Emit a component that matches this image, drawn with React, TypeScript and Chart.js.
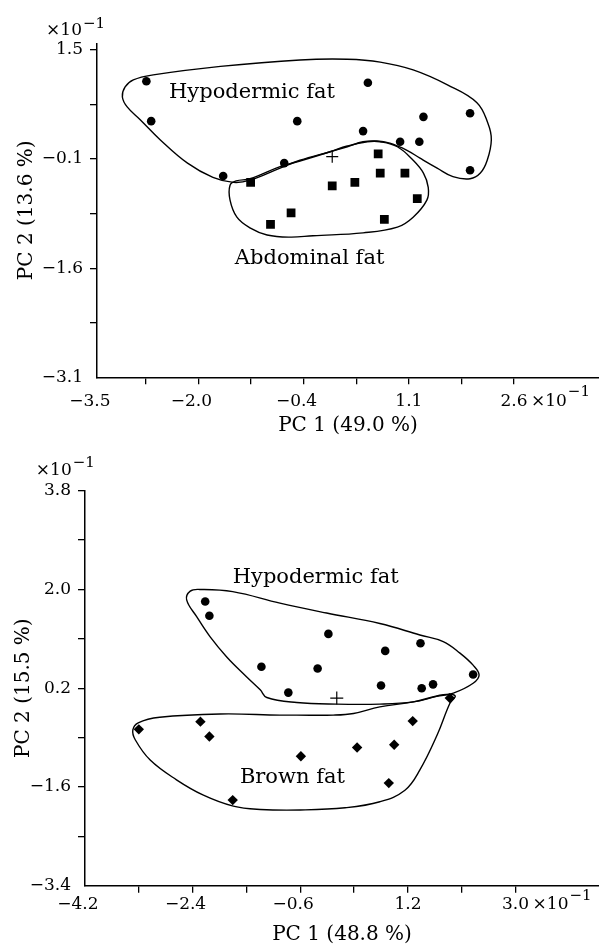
import React, { useEffect, useRef } from 'react';
import { Chart, registerables } from 'chart.js';

Chart.register(...registerables);

const FONT = "'DejaVu Serif', 'Liberation Serif', serif";

type Pt = [number, number];

// ---------------- Top panel: hypodermic vs abdominal fat ----------------
const topXTicks = [-3.48, -2.767, -2.0, -1.233, -0.467, 0.3, 1.067, 1.833, 2.6];
const topXTickLabels = ['−3.5', '', '−2.0', '', '−0.4', '', '1.1', '', '2.6'];
const topYTicks = [-3.1, -2.333, -1.567, -0.8, -0.033, 0.733, 1.5];
const topYTickLabels = ['−3.1', '', '−1.6', '', '−0.1', '', '1.5'];

const topHypodermic: Pt[] = [
  [-2.76, 1.06], [-2.69, 0.5], [-1.64, -0.27], [-0.75, -0.09], [-0.56, 0.5], [0.4, 0.36],
  [0.47, 1.04], [0.94, 0.21], [1.22, 0.21], [1.28, 0.56], [1.96, 0.61], [1.96, -0.19],
];
const topAbdominal: Pt[] = [
  [-1.24, -0.36], [-0.95, -0.95], [-0.65, -0.79], [-0.05, -0.41], [0.28, -0.36],
  [0.62, 0.04], [0.65, -0.23], [1.01, -0.23], [1.19, -0.59], [0.71, -0.88],
];
const topCentre: Pt[] = [[-0.05, 0.0]];

const topHypodermicOutline: Pt[] = [
  [-3.11, 0.84], [-3.07, 0.98], [-2.95, 1.08], [-2.66, 1.15], [-1.68, 1.27], [-0.52, 1.36],
  [0.17, 1.37], [0.65, 1.33], [1.13, 1.22], [1.63, 1.01], [2.06, 0.76], [2.22, 0.47],
  [2.27, 0.24], [2.21, -0.05], [2.11, -0.23], [1.96, -0.31], [1.71, -0.28], [1.48, -0.16],
  [1.23, -0.02], [1.04, 0.09], [0.79, 0.19], [0.6, 0.22], [0.4, 0.21], [0.17, 0.14],
  [-0.08, 0.07], [-0.52, -0.05], [-0.81, -0.16], [-1.25, -0.33], [-1.49, -0.36],
  [-1.79, -0.29], [-2.16, -0.09], [-2.56, 0.24], [-2.85, 0.52], [-3.04, 0.7],
];
const topAbdominalOutline: Pt[] = [
  [-1.54, -0.4], [-1.54, -0.61], [-1.44, -0.85], [-1.25, -1.0], [-1.0, -1.1], [-0.66, -1.13],
  [-0.33, -1.11], [0.4, -1.07], [0.9, -0.99], [1.13, -0.85], [1.33, -0.61], [1.35, -0.43],
  [1.28, -0.23], [1.13, -0.05], [0.9, 0.14], [0.65, 0.21], [0.46, 0.21], [0.17, 0.15],
  [-0.08, 0.07], [-0.52, -0.06], [-0.81, -0.14], [-1.25, -0.31], [-1.45, -0.34],
];
const topLabels = [
  { text: 'Hypodermic fat', x: -2.43, y: 0.83 },
  { text: 'Abdominal fat', x: -1.47, y: -1.51 },
];

// ---------------- Bottom panel: hypodermic vs brown fat ----------------
const botXTicks = [-4.2, -3.3, -2.4, -1.5, -0.6, 0.3, 1.2, 2.1, 3.0];
const botXTickLabels = ['−4.2', '', '−2.4', '', '−0.6', '', '1.2', '', '3.0'];
const botYTicks = [-3.4, -2.5, -1.6, -0.7, 0.2, 1.1, 2.0, 2.9, 3.8];
const botYTickLabels = ['−3.4', '', '−1.6', '', '0.2', '', '2.0', '', '3.8'];

const botHypodermic: Pt[] = [
  [-2.19, 1.78], [-2.12, 1.52], [-1.25, 0.59], [-0.8, 0.12], [-0.31, 0.56], [-0.13, 1.19],
  [0.75, 0.25], [0.82, 0.88], [1.41, 1.02], [1.43, 0.2], [1.62, 0.27], [2.29, 0.45],
];
const botBrown: Pt[] = [
  [-3.3, -0.55], [-2.27, -0.41], [-2.12, -0.68], [-1.73, -1.84], [-0.59, -1.04],
  [0.35, -0.88], [0.97, -0.83], [1.28, -0.4], [1.9, 0.02], [0.88, -1.53],
];
const botCentre: Pt[] = [[0.01, 0.02]];

const botHypodermicOutline: Pt[] = [
  [-2.5, 1.81], [-2.44, 1.97], [-2.28, 2.0], [-1.73, 1.96], [-0.94, 1.75], [-0.16, 1.57],
  [0.73, 1.38], [1.4, 1.17], [1.79, 1.05], [2.07, 0.84], [2.29, 0.62], [2.39, 0.44],
  [2.29, 0.29], [1.96, 0.11], [1.68, 0.05], [1.29, -0.05], [0.73, -0.09], [0.01, -0.09],
  [-0.66, -0.06], [-1.16, 0.03], [-1.27, 0.17], [-1.5, 0.41], [-1.83, 0.77], [-2.11, 1.14],
  [-2.33, 1.5],
];
const botBrownOutline: Pt[] = [
  [-0.94, -0.29], [-1.94, -0.27], [-2.95, -0.33], [-3.31, -0.43], [-3.4, -0.56], [-3.36, -0.74],
  [-3.11, -1.11], [-2.67, -1.47], [-2.22, -1.75], [-1.72, -1.95], [-1.27, -2.01], [-0.6, -2.02],
  [0.15, -1.98], [0.73, -1.87], [1.15, -1.66], [1.4, -1.29], [1.69, -0.65], [1.9, -0.08],
  [1.99, 0.06], [1.79, 0.08], [1.29, -0.05], [0.73, -0.14], [0.29, -0.26], [-0.05, -0.29],
  [-0.66, -0.29],
];
const botLabels = [
  { text: 'Hypodermic fat', x: -1.73, y: 2.12 },
  { text: 'Brown fat', x: -1.61, y: -1.53 },
];

// ---------------- panel descriptions ----------------
interface Marker { points: Pt[]; style: string; radius: number; }
interface PanelCfg {
  width: number; height: number;
  xMin: number; xMax: number; yMin: number; yMax: number;
  xTicks: number[]; xTickLabels: string[]; yTicks: number[]; yTickLabels: string[];
  xTitle: string; yTitle: string;
  markers: Marker[]; outlines: Pt[][]; labels: { text: string; x: number; y: number }[];
  padTop: number; yAxisWidth: number; xAxisHeight: number;
  xTickPad: number; xTitlePad: number; yTitlePad: number;
  yExpDx: number; yExpDy: number; yExpRaise: number; xExpDx: number; xExpRaise: number;
}

const topPanel: PanelCfg = {
  width: 599, height: 445,
  xMin: -3.48, xMax: 3.84, yMin: -3.1, yMax: 1.594,
  xTicks: topXTicks, xTickLabels: topXTickLabels, yTicks: topYTicks, yTickLabels: topYTickLabels,
  xTitle: 'PC 1 (49.0 %)', yTitle: 'PC 2 (13.6 %)',
  markers: [
    { points: topHypodermic, style: 'circle', radius: 4.3 },
    { points: topAbdominal, style: 'rect', radius: 6.2 },
    { points: topCentre, style: 'cross', radius: 6 },
  ],
  outlines: [topHypodermicOutline, topAbdominalOutline],
  labels: topLabels,
  padTop: 43.3, yAxisWidth: 97, xAxisHeight: 67.7,
  xTickPad: 7, xTitlePad: 7.6, yTitlePad: 15,
  yExpDx: 15, yExpDy: 8.3, yExpRaise: 7.5, xExpDx: 17, xExpRaise: 9,
};

const bottomPanel: PanelCfg = {
  width: 599, height: 502,
  xMin: -4.2, xMax: 4.395, yMin: -3.4, yMax: 3.8,
  xTicks: botXTicks, xTickLabels: botXTickLabels, yTicks: botYTicks, yTickLabels: botYTickLabels,
  xTitle: 'PC 1 (48.8 %)', yTitle: 'PC 2 (15.5 %)',
  markers: [
    { points: botHypodermic, style: 'circle', radius: 4.3 },
    { points: botBrown, style: 'rectRot', radius: 5.2 },
    { points: botCentre, style: 'cross', radius: 6.5 },
  ],
  outlines: [botHypodermicOutline, botBrownOutline],
  labels: botLabels,
  padTop: 45.7, yAxisWidth: 85, xAxisHeight: 61.3,
  xTickPad: 2, xTitlePad: 0, yTitlePad: 12,
  yExpDx: 13.3, yExpDy: 15.7, yExpRaise: 8, xExpDx: 17, xExpRaise: 9,
};

// close the outline curves smoothly
const closedLoopPlugin = {
  id: 'closedLoop',
  afterDatasetsUpdate(chart: any) {
    chart.data.datasets.forEach((ds: any, i: number) => {
      if (ds.type !== 'line') return;
      const line: any = chart.getDatasetMeta(i).dataset;
      if (!line) return;
      line._loop = true;
      line._fullLoop = true;
      line._pointsUpdated = false;
      line._segments = undefined;
      line._path = undefined;
    });
  },
};

function makeTextPlugin(p: PanelCfg) {
  return {
    id: 'figureText',
    afterDraw(chart: any) {
      const { ctx, chartArea } = chart;
      const xs = chart.scales.x;
      const ys = chart.scales.y;
      ctx.save();
      ctx.fillStyle = '#000';
      // group labels
      ctx.font = `21px ${FONT}`;
      ctx.textAlign = 'left';
      ctx.textBaseline = 'alphabetic';
      p.labels.forEach((l) => ctx.fillText(l.text, xs.getPixelForValue(l.x), ys.getPixelForValue(l.y)));
      // x10^-1 factors
      const drawExp = (x: number, y: number, base: CanvasTextBaseline, raise: number) => {
        ctx.textAlign = 'left';
        ctx.textBaseline = base;
        ctx.font = `17px ${FONT}`;
        ctx.fillText('×10', x, y);
        const w = ctx.measureText('×10').width;
        ctx.font = `15px ${FONT}`;
        ctx.fillText('−1', x + w + 1, y - raise);
      };
      // x axis factor
      const lastTick = p.xTicks[p.xTicks.length - 1];
      const xMid = chartArea.bottom + 7 + p.xTickPad + 17 * 1.2 / 2;
      drawExp(xs.getPixelForValue(lastTick) + p.xExpDx, xMid, 'middle', p.xExpRaise);
      // y axis factor (right aligned)
      ctx.font = `17px ${FONT}`;
      const w = ctx.measureText('×10').width;
      drawExp(chartArea.left - p.yExpDx - w, chartArea.top - p.yExpDy, 'alphabetic', p.yExpRaise);
      ctx.restore();
    },
  };
}

function buildConfig(p: PanelCfg): any {
  const toXY = (arr: Pt[]) => arr.map(([x, y]) => ({ x, y }));
  const datasets: any[] = [];
  p.markers.forEach((m) => {
    datasets.push({
      type: 'scatter',
      data: toXY(m.points),
      pointStyle: m.style,
      pointRadius: m.radius,
      backgroundColor: '#000',
      borderColor: '#000',
      borderWidth: m.style === 'cross' ? 1.2 : 0,
    });
  });
  p.outlines.forEach((o) => {
    datasets.push({
      type: 'line',
      data: toXY(o),
      borderColor: '#000',
      borderWidth: 1.4,
      pointRadius: 0,
      tension: 0.4,
      fill: false,
    });
  });
  const tickFont = { family: FONT, size: 17 };
  const titleFont = { family: FONT, size: 20 };
  const grid = {
    drawOnChartArea: false,
    drawTicks: true,
    tickLength: 7,
    lineWidth: 1.3,
    color: (c: any) => (c.index === 0 ? 'rgba(0,0,0,0)' : '#000'),
  };
  const border = { display: true, color: '#000', width: 1.5 };
  return {
    type: 'scatter',
    data: { datasets },
    options: {
      responsive: false,
      animation: false,
      devicePixelRatio: 1,
      events: [],
      layout: { autoPadding: false, padding: { top: p.padTop, left: 0, right: 0, bottom: 0 } },
      plugins: { legend: { display: false }, tooltip: { enabled: false } },
      scales: {
        x: {
          type: 'linear',
          min: p.xMin,
          max: p.xMax,
          afterBuildTicks: (s: any) => { s.ticks = p.xTicks.map((v) => ({ value: v })); },
          afterFit: (s: any) => { s.height = p.xAxisHeight; },
          ticks: {
            autoSkip: false, maxRotation: 0, minRotation: 0, padding: p.xTickPad,
            font: tickFont, color: '#000',
            callback: (_v: any, i: number) => {
              const l = p.xTickLabels[i] ?? '';
              return l.startsWith('−') ? l + '\u2007\u2009' : l;
            },
          },
          grid, border,
          title: { display: true, text: p.xTitle, font: titleFont, color: '#000', padding: { top: 0, bottom: p.xTitlePad } },
        },
        y: {
          type: 'linear',
          min: p.yMin,
          max: p.yMax,
          afterBuildTicks: (s: any) => { s.ticks = p.yTicks.map((v) => ({ value: v })); },
          afterFit: (s: any) => { s.width = p.yAxisWidth; },
          ticks: {
            autoSkip: false, padding: 7, font: tickFont, color: '#000',
            callback: (_v: any, i: number) => p.yTickLabels[i] ?? '',
          },
          grid, border,
          title: { display: true, text: p.yTitle, font: titleFont, color: '#000', padding: { top: p.yTitlePad, bottom: 0 } },
        },
      },
    },
    plugins: [closedLoopPlugin, makeTextPlugin(p)],
  };
}

function Panel({ cfg, top }: { cfg: PanelCfg; top: number }) {
  const ref = useRef<HTMLCanvasElement>(null);
  useEffect(() => {
    const chart = new Chart(ref.current as HTMLCanvasElement, buildConfig(cfg));
    return () => chart.destroy();
  }, [cfg]);
  return (
    <canvas
      ref={ref}
      width={cfg.width}
      height={cfg.height}
      style={{ position: 'absolute', left: 0, top, width: cfg.width, height: cfg.height, display: 'block' }}
    />
  );
}

export default function App() {
  return (
    <div style={{ position: 'absolute', left: 0, top: 0, width: 599, height: 947, background: '#fff' }}>
      <Panel cfg={topPanel} top={0} />
      <Panel cfg={bottomPanel} top={445} />
    </div>
  );
}
